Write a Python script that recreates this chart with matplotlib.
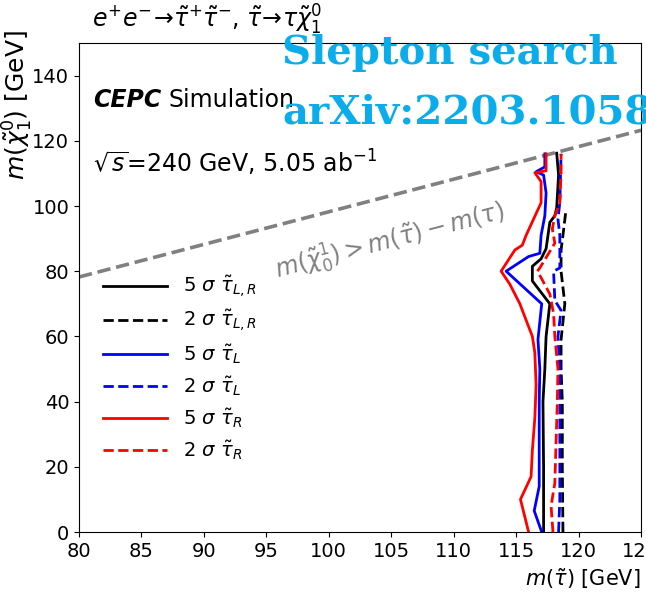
import matplotlib.pyplot as plt

# 5 sigma / 2 sigma contours (m_stau, m_chi)
ll_5s_x = [117.2, 117.2, 117.15, 117.3, 117.4, 117.7, 116.3, 116.3, 117.0, 117.4, 117.7, 118.1, 118.25, 118.4, 118.25]
ll_5s_y = [0, 20, 40, 50, 60, 70, 77, 81.5, 83.8, 86.9, 95, 97, 99.5, 109.5, 116.2]
ll_2s_x = [118.75, 118.7, 118.7, 118.6, 118.6, 118.9, 118.6, 118.6, 118.8, 119.0]
ll_2s_y = [0, 20, 40, 50, 59, 70, 80, 86.5, 92.6, 99]

l_5s_x = [117.05, 116.45, 116.85, 116.85, 116.9, 116.75, 117.05, 114.2, 116.0, 116.9, 117.0, 117.3, 117.4, 117.2, 116.6, 117.3, 117.3]
l_5s_y = [0, 6.5, 14, 40, 50, 59, 70, 80, 84.5, 85.5, 91, 97, 104, 109.5, 110.5, 112, 116]
l_2s_x = [118.4, 118.5, 118.5, 118.5, 118.35, 118.6, 118.1, 118.0, 118.5, 118.5, 118.5, 118.35, 118.5, 118.6]
l_2s_y = [0, 10, 40, 50, 60, 68, 71, 80, 81, 86, 91, 96, 101, 116]

r_5s_x = [116.0, 115.35, 116.2, 116.3, 116.5, 116.6, 116.5, 116.3, 115.3, 114.5, 113.8, 114.9, 115.5, 115.8, 117.0, 117.0, 116.5, 117.4, 117.4]
r_5s_y = [0, 10, 17, 25, 35, 45, 55, 60, 70, 76, 80, 86.5, 88, 91, 101, 107.5, 110.2, 110.8, 116]
r_2s_x = [117.95, 117.8, 118.1, 118.3, 118.35, 118.1, 118.0, 117.7, 117.0, 116.7, 116.9, 118.1, 117.9, 118.1, 118.5, 118.6, 118.6]
r_2s_y = [0, 8, 15, 40, 50, 60, 67, 73, 78, 80, 81, 88.6, 93, 97, 101, 110, 116]

m_tau = 1.777
kin_x = [80, 125]

fig = plt.figure(figsize=(6.46, 5.93), dpi=100)
ax = fig.add_axes([79/646, 61/593, 562/646, 489/593])

ax.plot(kin_x, [x - m_tau for x in kin_x], '--', color='gray', lw=2.6)
ax.text(104.9, 88.9, r'$m(\tilde{\chi}_0^1) > m(\tilde{\tau}) - m(\tau)$', color='gray',
        fontsize=17, rotation=14.6, ha='center', va='center', rotation_mode='anchor')

ax.plot(ll_5s_x, ll_5s_y, '-', color='black', lw=2, label=r'5 $\sigma$ $\tilde{\tau}_{L,R}$')
ax.plot(ll_2s_x, ll_2s_y, '--', color='black', lw=2, label=r'2 $\sigma$ $\tilde{\tau}_{L,R}$')
ax.plot(l_5s_x, l_5s_y, '-', color='blue', lw=2, label=r'5 $\sigma$ $\tilde{\tau}_{L}$')
ax.plot(l_2s_x, l_2s_y, '--', color='blue', lw=2, label=r'2 $\sigma$ $\tilde{\tau}_{L}$')
ax.plot(r_5s_x, r_5s_y, '-', color='red', lw=2, label=r'5 $\sigma$ $\tilde{\tau}_{R}$')
ax.plot(r_2s_x, r_2s_y, '--', color='red', lw=2, label=r'2 $\sigma$ $\tilde{\tau}_{R}$')

ax.set_xlim(80, 125)
ax.set_ylim(0, 150)
ax.set_xticks(range(80, 126, 5))
ax.set_yticks(range(0, 141, 20))
ax.tick_params(labelsize=14)

ax.legend(loc='upper left', bbox_to_anchor=(0.012, 0.564), frameon=False, fontsize=14,
          handlelength=3.3, handletextpad=0.8, labelspacing=0.44)

ax.set_xlabel(r'$m(\tilde{\tau})$ [GeV]', fontsize=15, loc='right')
ax.set_ylabel(r'$m(\tilde{\chi}_1^0)$ [GeV]', fontsize=18, loc='top')
ax.yaxis.set_label_coords(-0.079, 1.027)

ax.text(0.023, 1.012, r'$e^{+}e^{-}\!\rightarrow\!\tilde{\tau}^{+}\tilde{\tau}^{-}$, $\tilde{\tau}\!\rightarrow\!\tau\tilde{\chi}_1^0$',
        transform=ax.transAxes, fontsize=17, ha='left', va='bottom')
ax.text(0.025, 0.884, 'CEPC', transform=ax.transAxes, fontsize=17, fontweight='bold',
        fontstyle='italic', ha='left', va='center')
ax.text(0.159, 0.884, 'Simulation', transform=ax.transAxes, fontsize=17, ha='left', va='center')
ax.text(0.025, 0.755, r'$\sqrt{s}$=240 GeV, 5.05 ab$^{-1}$', transform=ax.transAxes,
        fontsize=17, ha='left', va='center')

fig.text(282/646, 1 - 53/593, 'Slepton search', color='#0AADEA', fontsize=29,
         fontweight='bold', family='DejaVu Serif', ha='left', va='center')
fig.text(282/646, 1 - 113/593, 'arXiv:2203.10580', color='#0AADEA', fontsize=29,
         fontweight='bold', family='DejaVu Serif', ha='left', va='center')

fig.savefig('out.png', dpi=100)
